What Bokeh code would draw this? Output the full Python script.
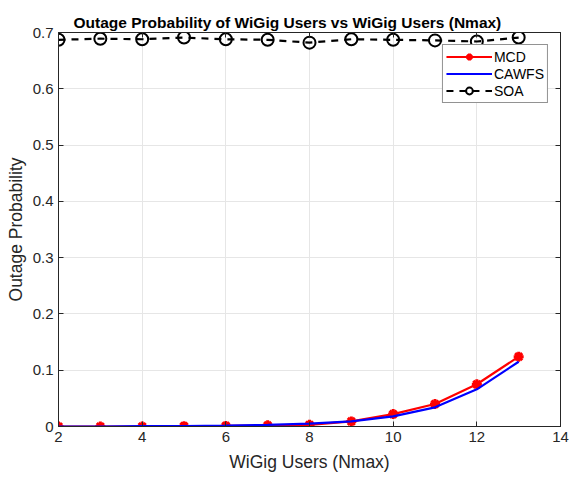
from bokeh.plotting import figure
from bokeh.models import LinearAxis, Legend, LegendItem, FixedTicker, Range1d, CustomJSTickFormatter
from bokeh.embed import file_html
from bokeh.resources import INLINE

# WiGig users per cell (Nmax)
users = [2, 3, 4, 5, 6, 7, 8, 9, 10, 11, 12, 13]

# Outage probability per scheme
mcd = [0.0, 0.0, 0.0, 0.0005, 0.001, 0.002, 0.003, 0.009, 0.022, 0.040, 0.075, 0.124]
cawfs = [0.0, 0.0, 0.0005, 0.0008, 0.0015, 0.003, 0.005, 0.009, 0.018, 0.034, 0.066, 0.115]
soa = [0.687, 0.689, 0.688, 0.691, 0.688, 0.687, 0.682, 0.688, 0.687, 0.686, 0.684, 0.691]

x_ticks = [2, 4, 6, 8, 10, 12, 14]
y_ticks = [0, 0.1, 0.2, 0.3, 0.4, 0.5, 0.6, 0.7]

FONT = "Liberation Sans"
TXT = "#262626"

p = figure(width=569, height=477, output_backend="svg", toolbar_location=None,
           x_range=Range1d(2, 14), y_range=Range1d(0, 0.7),
           min_border_left=58, min_border_right=9, min_border_top=32, min_border_bottom=51,
           background_fill_color="white", border_fill_color="white")

p.title.text = "Outage Probability of WiGig Users vs WiGig Users (Nmax)"
p.title.align = "left"
p.title.offset = 15
p.title.text_font = FONT
p.title.text_font_size = "15.5px"
p.title.text_font_style = "bold"
p.title.text_color = "black"
p.title.standoff = 3

p.outline_line_color = TXT
p.outline_line_width = 1

for ax in (p.xaxis[0], p.yaxis[0]):
    ax.major_label_text_font = FONT
    ax.major_label_text_font_size = "15px"
    ax.major_label_text_color = TXT
    ax.axis_label_text_font = FONT
    ax.axis_label_text_font_size = "17.5px"
    ax.axis_label_text_font_style = "normal"
    ax.axis_label_text_color = TXT
    ax.axis_line_color = TXT
    ax.major_tick_line_color = TXT
    ax.major_tick_in = 5
    ax.major_tick_out = 0
    ax.minor_tick_line_color = None

p.xaxis[0].ticker = FixedTicker(ticks=x_ticks)
p.yaxis[0].ticker = FixedTicker(ticks=y_ticks)
p.yaxis[0].major_label_overrides = {0: "0"}
p.xaxis[0].axis_label = "WiGig Users (Nmax)"
p.yaxis[0].axis_label = "Outage Probability"
p.xaxis[0].major_label_standoff = 5
p.yaxis[0].major_label_standoff = 5
p.xaxis[0].axis_label_standoff = 7
p.yaxis[0].axis_label_standoff = 4

# Box-style top and right axes with inward ticks and blank labels
blank = CustomJSTickFormatter(code="return ''")
top = LinearAxis(ticker=FixedTicker(ticks=x_ticks), formatter=blank,
                 major_tick_in=5, major_tick_out=0, minor_tick_line_color=None,
                 axis_line_color=TXT, major_tick_line_color=TXT, major_label_standoff=0)
right = LinearAxis(ticker=FixedTicker(ticks=y_ticks), formatter=blank,
                   major_tick_in=5, major_tick_out=0, minor_tick_line_color=None,
                   axis_line_color=TXT, major_tick_line_color=TXT, major_label_standoff=0)
p.add_layout(top, "above")
p.add_layout(right, "right")

p.xgrid.ticker = FixedTicker(ticks=x_ticks)
p.ygrid.ticker = FixedTicker(ticks=y_ticks)
p.grid.grid_line_color = "#e6e6e6"
p.grid.grid_line_width = 1

r_mcd = p.line(users, mcd, line_color="red", line_width=2.2)
m_mcd = p.scatter(users, mcd, marker="asterisk", size=10, line_color="red", line_width=3)
r_caw = p.line(users, cawfs, line_color="blue", line_width=2.2)
r_soa = p.line(users, soa, line_color="black", line_width=2.2, line_dash="7 6")
m_soa = p.scatter(users, soa, marker="circle", size=12, line_color="black", line_width=2,
                  fill_color=None)

legend = Legend(items=[
    LegendItem(label="MCD", renderers=[r_mcd, m_mcd]),
    LegendItem(label="CAWFS", renderers=[r_caw]),
    LegendItem(label="SOA", renderers=[r_soa, m_soa]),
], location="top_right")
legend.label_text_font = FONT
legend.label_text_font_size = "14px"
legend.label_text_color = "black"
legend.glyph_width = 46
legend.glyph_height = 17
legend.label_standoff = 2
legend.spacing = 0
legend.padding = 3
legend.margin = 12
legend.border_line_color = TXT
legend.border_line_width = 1
legend.background_fill_alpha = 1
p.add_layout(legend)

open("out.html", "w").write(file_html(p, INLINE))
